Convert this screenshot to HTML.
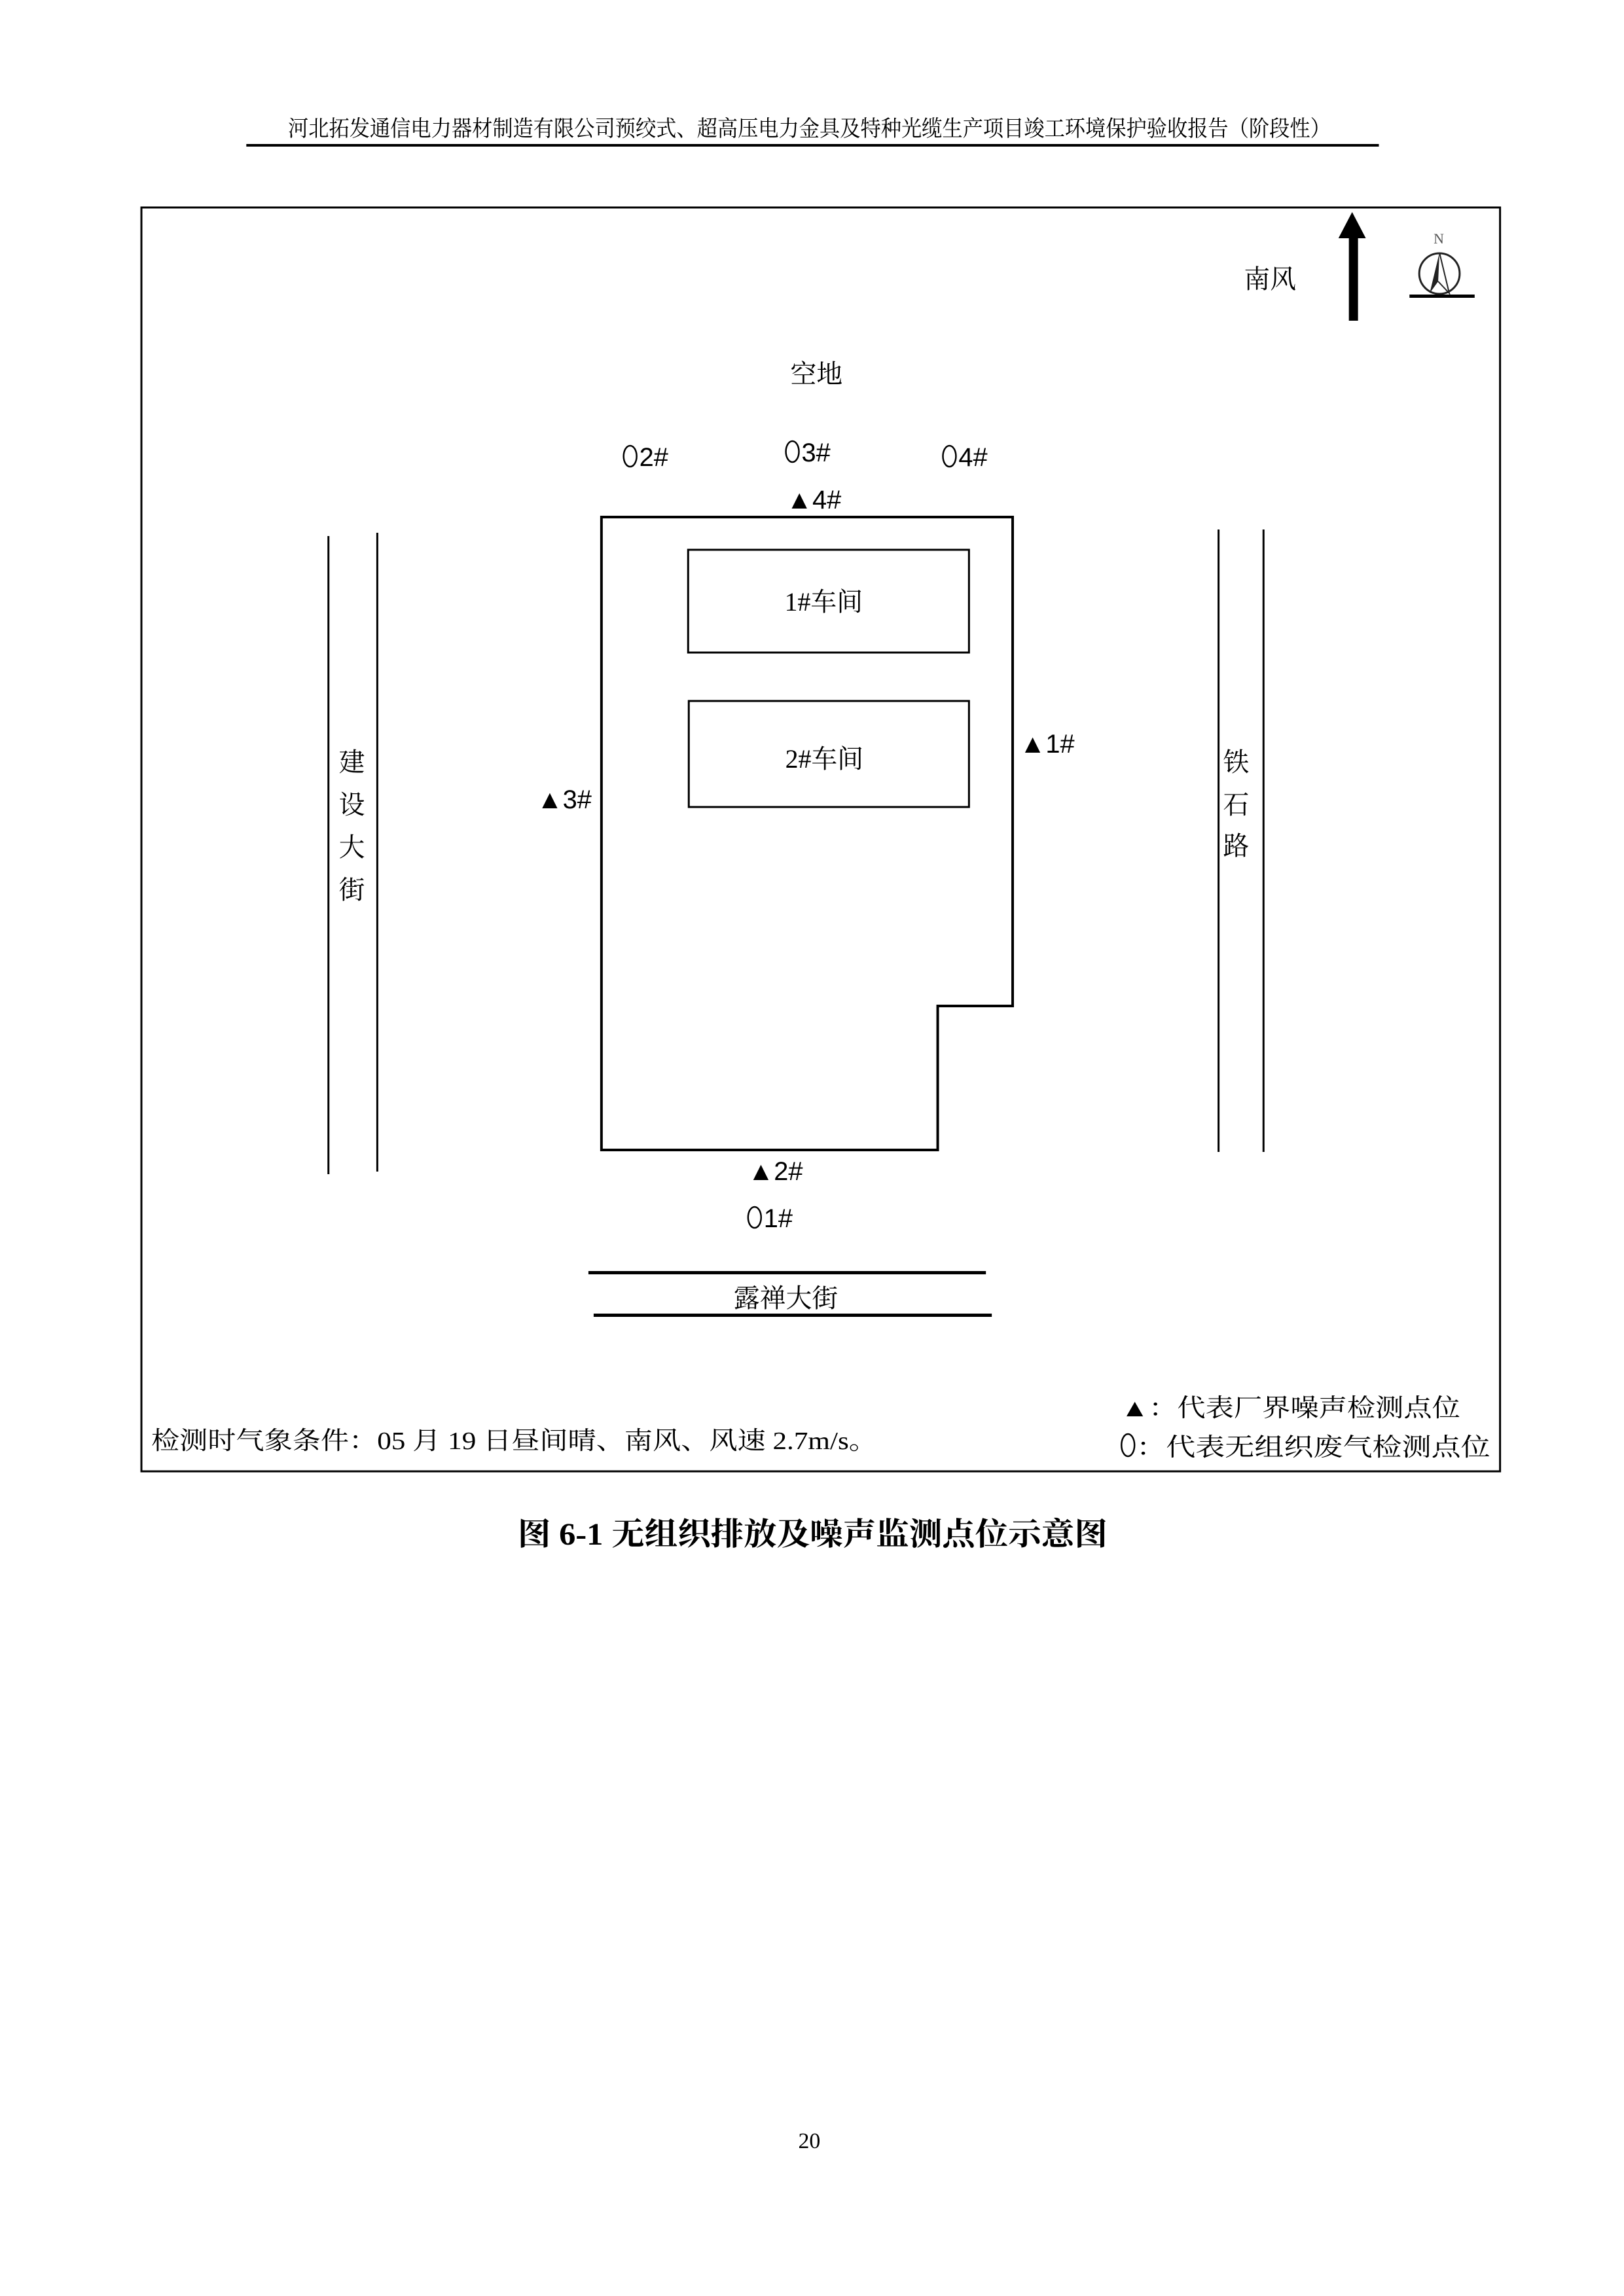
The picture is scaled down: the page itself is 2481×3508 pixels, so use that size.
<!DOCTYPE html>
<html><head><meta charset="utf-8"><style>
html,body{margin:0;padding:0;background:#fff}
svg{display:block}
text{font-family:"Liberation Serif","Noto Serif CJK SC",serif;fill:#000}
.s{font-family:"Liberation Sans","Noto Sans CJK SC",sans-serif}
</style></head><body>
<svg width="2481" height="3508" viewBox="0 0 2481 3508" xmlns="http://www.w3.org/2000/svg">
<g transform="matrix(0.9955,0,0,1,2,0)">
<text x="1240" y="208" font-size="34" text-anchor="middle" textLength="1600" lengthAdjust="spacingAndGlyphs">河北拓发通信电力器材制造有限公司预绞式、超高压电力金具及特种光缆生产项目竣工环境保护验收报告（阶段性）</text>
<rect x="376" y="220" width="1738" height="4" fill="#000"/>
<rect x="215" y="317" width="2085" height="1931" fill="none" stroke="#000" stroke-width="3"/>
<!-- wind arrow -->
<rect x="2068" y="360" width="14" height="130" fill="#000"/>
<polygon points="2073,324 2052,364 2094,364" fill="#000"/>
<text x="1947" y="440" font-size="40" text-anchor="middle">南风</text>
<!-- compass -->
<text x="2206" y="372" font-size="22" text-anchor="middle" style="fill:#555">N</text>
<circle cx="2207" cy="418" r="31" fill="none" stroke="#222" stroke-width="3"/>
<polygon points="2207,386 2192,448 2205,430" fill="#222"/>
<polyline points="2207,386 2222,448 2205,430" fill="none" stroke="#222" stroke-width="2"/>
<rect x="2161" y="450" width="100" height="5" fill="#000"/>
<text x="1251" y="585" font-size="40" text-anchor="middle">空地</text>
<g fill="none" stroke="#000" stroke-width="2.5">
<ellipse cx="965" cy="697" rx="10" ry="16"/>
<ellipse cx="1214" cy="690" rx="10" ry="16"/>
<ellipse cx="1455" cy="697" rx="10" ry="16"/>
<ellipse cx="1156" cy="1860" rx="10" ry="16"/>
<ellipse cx="1729" cy="2208" rx="10" ry="17"/>
</g>
<text class="s" x="979" y="712" font-size="40">2#</text>
<text class="s" x="1228" y="705" font-size="40">3#</text>
<text class="s" x="1469" y="712" font-size="40">4#</text>
<text class="s" x="1170" y="1875" font-size="40">1#</text>
<text class="s" x="1247" y="777" font-size="40" text-anchor="middle">▲4#</text>
<!-- site -->
<polyline points="921,1757 921,790 1552,790 1552,1537 1437,1537 1437,1757 921,1757 921,1755" fill="none" stroke="#000" stroke-width="4"/>
<rect x="1054" y="840" width="431" height="157" fill="none" stroke="#000" stroke-width="3"/>
<rect x="1055" y="1071" width="430" height="162" fill="none" stroke="#000" stroke-width="3"/>
<text x="1262" y="933" font-size="40" text-anchor="middle">1#车间</text>
<text x="1263" y="1173" font-size="40" text-anchor="middle">2#车间</text>
<text class="s" x="1605" y="1150" font-size="40" text-anchor="middle">▲1#</text>
<text class="s" x="864" y="1235" font-size="40" text-anchor="middle">▲3#</text>
<text class="s" x="1188" y="1803" font-size="40" text-anchor="middle">▲2#</text>
<!-- roads -->
<line x1="502" y1="819" x2="502" y2="1794" stroke="#000" stroke-width="3"/>
<line x1="577" y1="814" x2="577" y2="1790" stroke="#000" stroke-width="3"/>
<line x1="1868" y1="809" x2="1868" y2="1760" stroke="#000" stroke-width="3"/>
<line x1="1937" y1="809" x2="1937" y2="1760" stroke="#000" stroke-width="3"/>
<g font-size="40" text-anchor="middle">
<text x="538" y="1178">建</text><text x="538" y="1243">设</text><text x="538" y="1308">大</text><text x="538" y="1373">街</text>
<text x="1895" y="1178">铁</text><text x="1895" y="1243">石</text><text x="1895" y="1306">路</text>
</g>
<rect x="901" y="1942" width="610" height="5" fill="#000"/>
<rect x="909" y="2007" width="611" height="5" fill="#000"/>
<text x="1204" y="1997" font-size="40" text-anchor="middle">露禅大街</text>
<text x="230" y="2214" font-size="38" textLength="1114" lengthAdjust="spacingAndGlyphs">检测时气象条件：05 月 19 日昼间晴、南风、风速 2.7m/s。</text>
<text x="1718" y="2164" font-size="38" textLength="521" lengthAdjust="spacingAndGlyphs">▲：代表厂界噪声检测点位</text>
<text x="1742" y="2224" font-size="38" textLength="543" lengthAdjust="spacingAndGlyphs">：代表无组织废气检测点位</text>
<text x="1245" y="2360" font-size="48" font-weight="bold" text-anchor="middle" textLength="905" lengthAdjust="spacingAndGlyphs">图 6-1  无组织排放及噪声监测点位示意图</text>
<text x="1240" y="3282" font-size="34" text-anchor="middle">20</text>
</g>
</svg>
</body></html>
